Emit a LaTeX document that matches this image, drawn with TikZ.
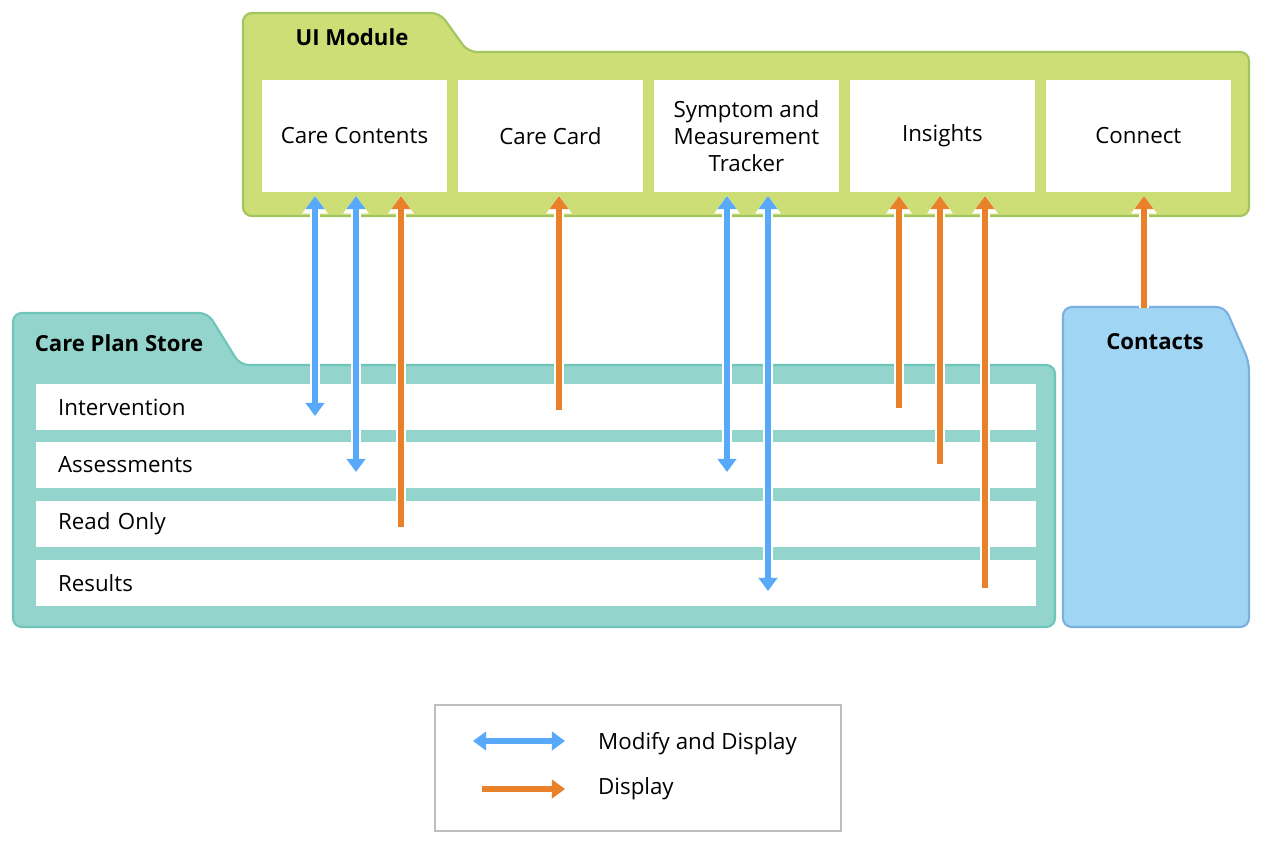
\documentclass[tikz,border=0pt]{standalone}
\usepackage{fontspec}
\setmainfont{Open Sans}
\usepackage{tikz}
\usetikzlibrary{arrows.meta}
\usetikzlibrary{positioning}
\usepackage{xcolor}
\definecolor{uigreen}{RGB}{205,222,119}
\definecolor{uigreenline}{RGB}{163,197,94}
\definecolor{storeteal}{RGB}{147,213,204}
\definecolor{storetealline}{RGB}{110,197,186}
\definecolor{contactblue}{RGB}{160,214,244}
\definecolor{contactblueline}{RGB}{122,176,224}
\definecolor{arrowblue}{RGB}{89,169,251}
\definecolor{arroworange}{RGB}{232,129,42}
\definecolor{legendgray}{RGB}{190,190,190}
\newcommand{\tipsmall}{Triangle[width=10.5pt,length=7.5pt]}
\newcommand{\tipwhite}{Triangle[width=14pt,length=10pt]}
\tikzset{
    folder/.style={line width=1.2pt, rounded corners=5pt},
    title/.style={font=\fontsize{12.6}{15}\selectfont\bfseries},
    uibox/.style={fill=white, minimum width=3.7cm, minimum height=2.24cm, align=center, inner sep=0pt, outer sep=0pt},
    storerow/.style={fill=white, minimum width=20cm, minimum height=0.92cm, text width=19.12cm, align=left, inner sep=0pt, outer sep=0pt},
    display/.style={arroworange, line width=3.4pt, -{\tipsmall},
        preaction={draw=white, line width=6.2pt, -{\tipwhite}}},
    modify/.style={arrowblue, line width=3.4pt, {\tipsmall}-{\tipsmall},
        preaction={draw=white, line width=6.2pt, {\tipwhite}-{\tipwhite}}},
}

\begin{document}
\begin{tikzpicture}[x=0.02cm, y=-0.02cm, font=\fontsize{12.7}{15.3}\selectfont]
    \useasboundingbox (0,0) rectangle (1262,844);

    % ui module
    \draw[folder, fill=uigreen, draw=uigreenline]
        (243,150) -- (243,13) -- (440,13) -- (468,52) -- (1249,52) -- (1249,216) -- (243,216) -- cycle;
    \node[title] (ui-title) at (352,37) {UI Module};
    \node[uibox] (care-contents) at (354.5,136) {Care Contents};
    \node[uibox, right=0.22cm of care-contents] (care-card) {Care Card};
    \node[uibox, right=0.22cm of care-card] (tracker) {Symptom and\\Measurement\\Tracker};
    \node[uibox, right=0.22cm of tracker] (insights) {Insights};
    \node[uibox, right=0.22cm of insights] (connect) {Connect};

    % care plan store
    \draw[folder, fill=storeteal, draw=storetealline]
        (13,500) -- (13,313) -- (208,313) -- (240,365) -- (1055,365) -- (1055,627) -- (13,627) -- cycle;
    \node[title] (store-title) at (119,343) {Care Plan Store};
    \node[storerow] (intervention) at (536,407) {Intervention};
    \node[storerow, below=0.24cm of intervention] (assessments) {Assessments};
    \node[storerow, below=0.26cm of assessments] (read-only) {Read Only};
    \node[storerow, below=0.26cm of read-only] (results) {Results};

    % contacts
    \draw[folder, fill=contactblue, draw=contactblueline]
        (1063,500) -- (1063,307) -- (1225,307) -- (1249,362) -- (1249,627) -- (1063,627) -- cycle;
    \node[title] (contacts-title) at (1155,342) {Contacts};

    % arrow ends
    \coordinate (cc-mod-1) at (315,196);
    \coordinate (cc-mod-2) at (356,196);
    \coordinate (cc-disp) at (401,196);
    \coordinate (card-disp) at (559,196);
    \coordinate (tr-mod-1) at (727,196);
    \coordinate (tr-mod-2) at (768,196);
    \coordinate (ins-disp-1) at (899,196);
    \coordinate (ins-disp-2) at (940,196);
    \coordinate (ins-disp-3) at (985,196);
    \coordinate (con-disp) at (1144,196);

    \coordinate (intervention-1) at (315,416);
    \coordinate (intervention-2) at (559,410);
    \coordinate (intervention-3) at (899,408);
    \coordinate (assessments-1) at (356,472);
    \coordinate (assessments-2) at (727,472);
    \coordinate (assessments-3) at (940,464);
    \coordinate (read-only-1) at (401,527);
    \coordinate (results-1) at (768,591);
    \coordinate (results-2) at (985,588);
    \coordinate (contacts-top) at (1144,308);

    \draw[modify] (cc-mod-1) -- (intervention-1);
    \draw[modify] (cc-mod-2) -- (assessments-1);
    \draw[display] (read-only-1) -- (cc-disp);
    \draw[display] (intervention-2) -- (card-disp);
    \draw[modify] (tr-mod-1) -- (assessments-2);
    \draw[modify] (tr-mod-2) -- (results-1);
    \draw[display] (intervention-3) -- (ins-disp-1);
    \draw[display] (assessments-3) -- (ins-disp-2);
    \draw[display] (results-2) -- (ins-disp-3);
    \draw[display] (contacts-top) -- (con-disp);

    % legend
    \node[draw=legendgray, line width=1pt, minimum width=8.12cm, minimum height=2.52cm] (legend) at (638,768) {};
    \coordinate (legend-mod-a) at (473,741);
    \coordinate (legend-mod-b) at (565,741);
    \coordinate (legend-disp-a) at (482,789);
    \coordinate (legend-disp-b) at (565,789);
    \draw[modify] (legend-mod-a) -- (legend-mod-b);
    \draw[display] (legend-disp-a) -- (legend-disp-b);
    \node[anchor=west] (legend-mod-text) at (592,744) {Modify and Display};
    \node[anchor=west] (legend-disp-text) at (592,789) {Display};
\end{tikzpicture}
\end{document}
